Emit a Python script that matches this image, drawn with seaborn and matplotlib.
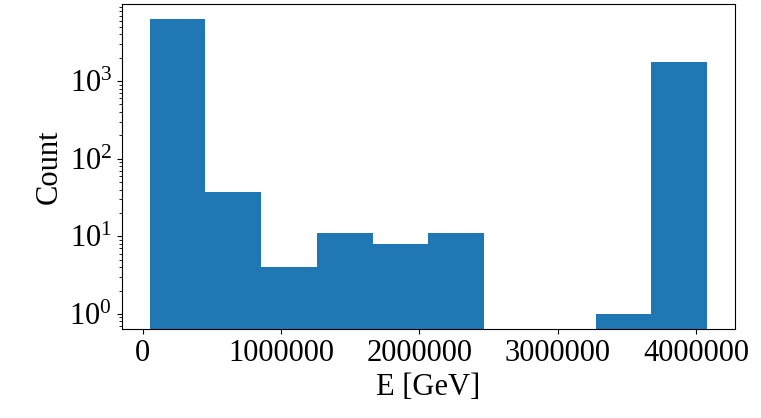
import numpy as np
import pandas as pd
import matplotlib
matplotlib.use("Agg")
import matplotlib.pyplot as plt
from matplotlib.ticker import LogLocator, NullFormatter
import seaborn as sns

# Histogram of reconstructed energies: bin edges and counts per bin
bin_edges = [50000, 453000, 856000, 1259000, 1662000, 2065000,
             2468000, 2871000, 3274000, 3677000, 4080000]
counts = [6300, 37, 4, 11, 8, 11, 0, 0, 1, 1750]

centers = [(a + b) / 2 for a, b in zip(bin_edges[:-1], bin_edges[1:])]
df = pd.DataFrame({"E": centers, "n": counts})

plt.rcParams["font.family"] = ["Liberation Serif", "DejaVu Serif"]
plt.rcParams["mathtext.fontset"] = "stix"

fig, ax = plt.subplots(figsize=(7.61, 4.18), dpi=100)
fig.subplots_adjust(left=0.160, right=0.966, top=0.990, bottom=0.213)

sns.histplot(data=df, x="E", weights="n", bins=bin_edges, ax=ax,
             color="#1f77b4", alpha=1.0, linewidth=0)
ax.set_yscale("log")
ax.set_ylim(0.64, 9800)
ax.yaxis.set_minor_locator(LogLocator(base=10, subs=np.arange(2, 10), numticks=20))
ax.yaxis.set_minor_formatter(NullFormatter())
ax.tick_params(axis="y", which="minor", length=2, width=0.6)
ax.set_xticks([0, 1000000, 2000000, 3000000, 4000000])
ax.set_xticklabels(["0", "1000000", "2000000", "3000000", "4000000"])
ax.set_xlabel("E [GeV]", fontsize=22)
ax.set_ylabel("Count", fontsize=22)
ax.tick_params(axis="both", which="major", labelsize=22)

fig.savefig("out.png", dpi=100)
